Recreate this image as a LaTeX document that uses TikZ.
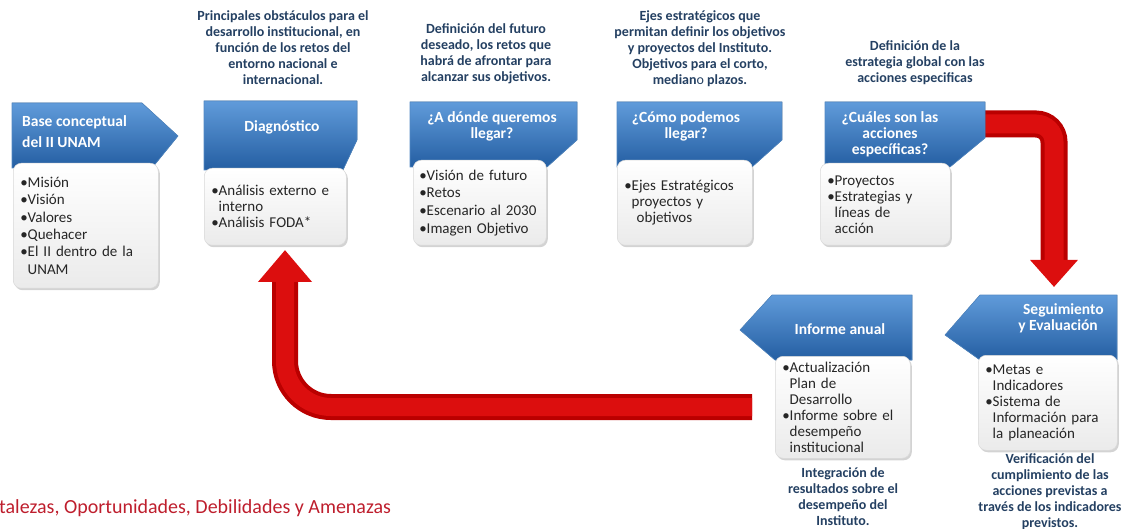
\documentclass[tikz,border=0pt]{standalone}
\usepackage{fontspec}
\setmainfont{Carlito}
\usetikzlibrary{arrows.meta,positioning,calc,shadows}
\definecolor{azul}{RGB}{52,116,186}
\definecolor{azulclaro}{RGB}{96,155,218}
\definecolor{azuloscuro}{RGB}{36,94,162}
\definecolor{textoazul}{RGB}{36,64,98}
\definecolor{rojo}{RGB}{186,0,0}
\definecolor{rojoclaro}{RGB}{220,14,14}
\definecolor{rojotexto}{RGB}{190,30,45}
\tikzset{
  cabeza/.style={top color=azulclaro, bottom color=azuloscuro, draw=azul!85!white, line width=0.6pt},
  titulo/.style={text=white, font=\fontsize{15.5}{16}\selectfont\bfseries, align=center, inner sep=0pt},
  lista/.style={anchor=north west, rounded corners=8pt, draw=black!15, line width=0.5pt,
    top color=white, bottom color=black!8,
    drop shadow={opacity=0.35, shadow xshift=1.5pt, shadow yshift=-2pt},
    inner xsep=7pt, inner ysep=0pt, align=left, text=black!85, font=\fontsize{15}{16}\selectfont},
  nota/.style={text=textoazul, font=\fontsize{14}{16}\selectfont\bfseries, align=center, anchor=north, inner sep=0pt},
  tubo/.style={draw=rojo, line width=27pt},
  brillo/.style={draw=rojoclaro, line width=19pt},
}

\begin{document}
\begin{tikzpicture}[x=1pt,y=-1pt]
  \useasboundingbox (0,0) rectangle (1132,529);

  % flechas rojas
  \coordinate (sal5) at (970,124);
  \coordinate (ent7) at (1054,287);
  \coordinate (sal6) at (752,407);
  \coordinate (ent2) at (285,250);
  \draw[tubo, rounded corners=18pt, -{Triangle[width=46pt,length=27pt,color=rojoclaro]}] (sal5) -| (ent7);
  \draw[brillo, rounded corners=18pt, shorten >=27pt] (sal5) -| (ent7);
  \draw[tubo, line width=26pt, rounded corners=46pt, -{Triangle[width=52pt,length=32pt,color=rojoclaro]}] (sal6) -| (ent2);
  \draw[brillo, line width=18pt, rounded corners=46pt, shorten >=32pt] (sal6) -| (ent2);

  % encabezados azules
  \fill[cabeza] (12,103) -- (142,103) -- (178,136) -- (152,168) -- (12,168) -- cycle;
  \fill[cabeza] (204,101) -- (357,101) -- (357,140) -- (343,170) -- (204,170) -- cycle;
  \fill[cabeza] (410,102) -- (577,102) -- (577,140) -- (547,167) -- (410,167) -- cycle;
  \fill[cabeza] (617,102) -- (782,102) -- (782,140) -- (752,167) -- (617,167) -- cycle;
  \fill[cabeza] (825,102) -- (985,102) -- (985,138) -- (950,167) -- (825,167) -- cycle;
  \fill[cabeza] (740,330) -- (772,295) -- (912,295) -- (912,360) -- (775,360) -- cycle;
  \fill[cabeza] (945,335) -- (980,295) -- (1117,295) -- (1117,360) -- (980,360) -- cycle;

  \node[titulo, align=left, anchor=north west, font=\fontsize{15.5}{21}\selectfont\bfseries] (h1) at (22,115) {Base conceptual\\del II UNAM};
  \node[titulo] (h2) at (282,127) {Diagnóstico};
  \node[titulo] (h3) at (492,126) {¿A dónde  queremos\\llegar?};
  \node[titulo] (h4) at (686,126) {¿Cómo podemos\\llegar?};
  \node[titulo] (h5) at (890,134) {¿Cuáles son las\\acciones\\específicas?};
  \node[titulo] (h6) at (840,329) {Informe anual};
  \node[titulo] (h7) at (1058,318) {\hphantom{y }Seguimiento\\y Evaluación};

  % cuadros blancos
  \node[lista, text width=131pt, minimum height=125pt, font=\fontsize{15}{17.4}\selectfont] (b1) at (13,163)
    {•Misión\\•Visión\\•Valores\\•Quehacer\\•El II dentro de la\\\hphantom{•}UNAM};
  \node[lista, text width=128pt, minimum height=77pt] (b2) at (204,168)
    {•Análisis externo e\\\hphantom{•}interno\\•Análisis FODA*};
  \node[lista, inner xsep=6pt, text width=121pt, minimum height=85pt, font=\fontsize{15}{17.6}\selectfont] (b3) at (413,160)
    {•Visión de futuro\\•Retos\\•Escenario al 2030\\•Imagen Objetivo};
  \node[lista, text width=121pt, minimum height=85pt] (b4) at (617,160)
    {•Ejes Estratégicos\\\hphantom{•}proyectos y\\\hphantom{•} objetivos};
  \node[lista, text width=116pt, minimum height=82pt] (b5) at (820,163)
    {•Proyectos\\•Estrategias y\\\hphantom{•}líneas de\\\hphantom{•}acción};
  \node[lista, text width=121pt, minimum height=102pt] (b6) at (775,356)
    {•Actualización\\\hphantom{•}Plan de\\\hphantom{•}Desarrollo\\•Informe sobre el\\\hphantom{•}desempeño\\\hphantom{•}institucional};
  \node[lista, text width=125pt, minimum height=95pt] (b7) at (978,355)
    {•Metas e\\\hphantom{•}Indicadores\\•Sistema de\\\hphantom{•}Información para\\\hphantom{•}la planeación};

  % notas
  \node[nota] (n2) at (283,10) {Principales obstáculos para el\\desarrollo institucional,  en\\función de los retos del\\entorno nacional e\\internacional.};
  \node[nota] (n3) at (486,23) {Definición del  futuro\\deseado, los retos que\\habrá de afrontar para\\alcanzar sus objetivos.};
  \node[nota] (n4) at (700,10) {Ejes estratégicos que\\permitan definir los objetivos\\y proyectos del Instituto.\\Objetivos para el corto,\\median{\mdseries o}  plazos.};
  \node[nota] (n5) at (915,40) {Definición de la\\estrategia global  con las\\acciones especificas};
  \node[nota] (n6) at (843,467) {Integración de\\resultados sobre el\\desempeño del\\Instituto.};
  \node[nota] (n7) at (1050,453) {Verificación del\\cumplimiento de las\\acciones previstas a\\través de los indicadores\\previstos.};

  \node[anchor=west, inner sep=0pt, text=rojotexto, font=\fontsize{20}{22}\selectfont] (foda) at (-1,508) {talezas, Oportunidades, Debilidades y Amenazas};
\end{tikzpicture}
\end{document}
